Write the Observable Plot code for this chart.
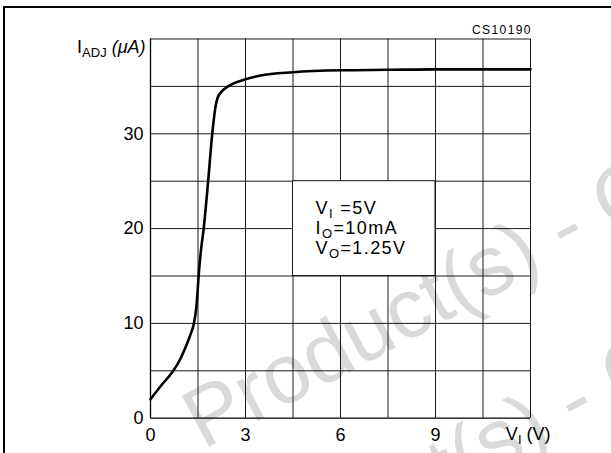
<!DOCTYPE html>
<html>
<head>
<meta charset="utf-8">
<script src="https://cdn.jsdelivr.net/npm/d3@7"></script>
<script src="https://cdn.jsdelivr.net/npm/@observablehq/plot@0.6"></script>
<style>
  html, body { margin: 0; padding: 0; background: #fff; }
  #chart { position: relative; width: 611px; height: 453px; overflow: hidden; }
  #chart svg { display: block; }
  .sheet { position: absolute; left: 3px; top: 6px; width: 700px; height: 600px;
           border-top: 2.5px solid #000; border-left: 2.5px solid #000; pointer-events: none; }
</style>
</head>
<body>
<div id="chart"><div class="sheet"></div></div>
<script>
// I_ADJ versus input voltage V_I (V_O = 1.25 V, I_O = 10 mA)
const inputVoltage = [0, 0.35, 0.72, 0.95, 1.11, 1.26, 1.37, 1.44, 1.49, 1.52, 1.59, 1.68, 1.82, 1.95, 2.05, 2.12, 2.26, 2.45, 2.68, 3.0, 3.47, 4.5, 6.0, 7.5, 9.0, 10.5, 12.0];
const adjCurrent   = [2.0, 3.5, 5.0, 6.3, 7.5, 8.8, 10.0, 11.5, 13.5, 15.0, 17.6, 20.0, 25.0, 30.0, 32.8, 33.8, 34.5, 35.0, 35.4, 35.75, 36.15, 36.5, 36.7, 36.75, 36.8, 36.8, 36.8];

const xTicks = [0, 3, 6, 9];
const yTicks = [0, 10, 20, 30];
const xGrid = [1.5, 3, 4.5, 6, 7.5, 9, 10.5, 12];
const yGrid = [5, 10, 15, 20, 25, 30, 35, 40];

const conditions = ["V_{I} =5V", "I_{O}=10mA", "V_{O}=1.25V"];
const conditionY = [22.1, 20.0, 17.9];
const noteBox = [{x1: 4.5, x2: 9, y1: 15, y2: 25}];
const drawingCode = "CS10190";

const curve = inputVoltage.map((v, i) => ({v, i: adjCurrent[i]}));
const notes = conditions.map((t, k) => ({t, y: conditionY[k]}));

const font = "'Liberation Sans', Arial, Helvetica, sans-serif";

const chart = Plot.plot({
  width: 611,
  height: 453,
  marginLeft: 150,
  marginRight: 81,
  marginTop: 38.5,
  marginBottom: 35.3,
  style: {fontFamily: font, fontSize: "18px", color: "#000", background: "#fff"},
  x: {domain: [0, 12], ticks: xTicks, tickSize: 0, tickPadding: 10, tickFormat: d => String(d), label: null},
  y: {domain: [0, 40], ticks: yTicks, tickSize: 0, tickPadding: 7, tickFormat: d => String(d), label: null},
  marks: [
    Plot.ruleX(xGrid, {stroke: "#1a1a1a", strokeWidth: 1}),
    Plot.ruleY(yGrid, {stroke: "#1a1a1a", strokeWidth: 1}),
    Plot.rect(noteBox, {x1: "x1", x2: "x2", y1: "y1", y2: "y2", fill: "#fff", stroke: "#1a1a1a", strokeWidth: 1}),
    Plot.ruleX([0], {stroke: "#000", strokeWidth: 1.3}),
    Plot.ruleY([0], {stroke: "#000", strokeWidth: 1.3}),
    Plot.line(curve, {x: "v", y: "i", stroke: "#000", strokeWidth: 2.6, curve: "monotone-x"}),
    Plot.text(notes, {x: 5.21, y: "y", text: "t", textAnchor: "start", lineAnchor: "middle", fontSize: 18}),
    Plot.text(["I_{ADJ} (μA)"], {frameAnchor: "top-left", dx: -5, dy: 8, textAnchor: "end", lineAnchor: "middle", fontSize: 18}),
    Plot.text(["V_{I} (V)"], {frameAnchor: "bottom-right", dx: 20, dy: 16, textAnchor: "end", lineAnchor: "middle", fontSize: 18}),
    Plot.text([drawingCode], {frameAnchor: "top-right", dx: 1.4, dy: -8.5, textAnchor: "end", lineAnchor: "middle", fontSize: 12})
  ]
});

const svg = d3.select(chart);

// Wider tracking for the conditions block and the drawing code
svg.selectAll("text")
  .filter(function () { const s = this.textContent; return s === drawingCode || conditions.includes(s); })
  .style("letter-spacing", "1.4px");

// Turn "_{...}" segments into lowered, smaller tspans
svg.selectAll("text").each(function () {
  const el = d3.select(this);
  if (!el.select("tspan").empty()) return;
  const s = el.text();
  if (!s.includes("_{")) return;
  el.text("");
  const parts = s.split(/(_\{[^}]*\})/).filter(p => p.length);
  let lowered = false;
  parts.forEach(p => {
    const ts = el.append("tspan");
    if (p.startsWith("_{")) {
      ts.text(p.slice(2, -1)).attr("font-size", "13px").attr("dy", lowered ? 0 : 4);
      lowered = true;
    } else {
      ts.text(p);
      if (lowered) { ts.attr("dy", -4); lowered = false; }
    }
  });
});
svg.selectAll("tspan").filter(function () { return d3.select(this).text().includes("μ"); })
  .attr("font-style", "italic");

// Faint diagonal watermark behind the chart
const wm = svg.insert("g", ":first-child")
  .attr("fill", "#dadada").attr("font-family", font).attr("font-size", 84).attr("text-anchor", "start");
wm.append("text").attr("transform", "translate(203,450) rotate(-28)").text("Product(s) - Obsolete Product(s)");
wm.append("text").attr("transform", "translate(212,623) rotate(-28)").text("Product(s) - Obsolete Product(s)");

document.getElementById("chart").prepend(chart);
</script>
</body>
</html>
